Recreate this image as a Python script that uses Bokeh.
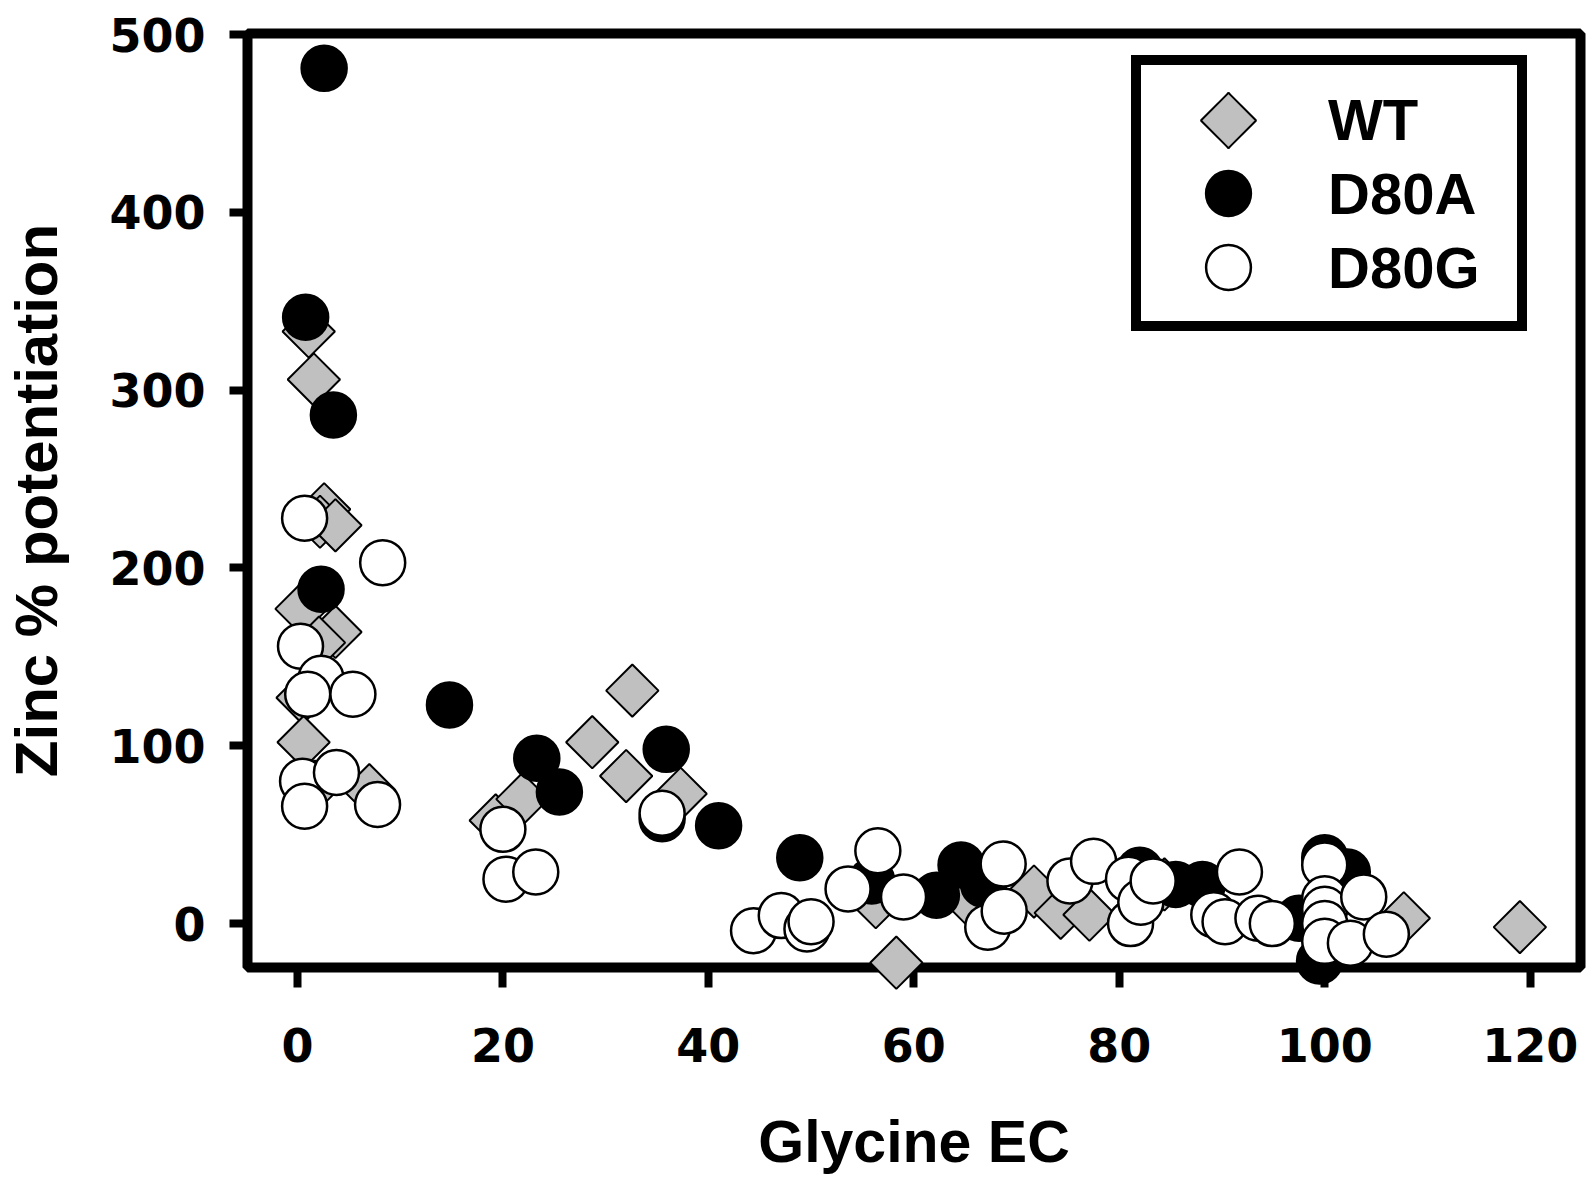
import math
from bokeh.plotting import figure
from bokeh.models import Range1d, Legend, LegendItem, FixedTicker, ColumnDataSource
from bokeh.embed import file_html
from bokeh.resources import INLINE

# ---- data ----
x_ticks = [0, 20, 40, 60, 80, 100, 120]
y_ticks = [0, 100, 200, 300, 400, 500]

wt_x = [1.1, 1.6, 2.6, 2.2, 3.7, 0.4, 3.7, 2.1, 0.5, 0.6, 1.7, 7.0, 19.3, 21.9,
        28.7, 32.6, 32.0, 37.3, 56.3, 58.3, 65.3, 71.7, 74.3, 77.1, 84.4, 107.7, 119.0]
wt_y = [333, 306, 233, 226, 224, 177, 164, 158, 127, 102, 77, 75, 58, 70,
        102, 131, 83, 73, 12, -22, 13, 18, 6, 5, 22, 3, -2]

d80a_x = [2.6, 0.8, 3.5, 2.3, 14.8, 23.3, 25.5, 35.9, 35.5, 41.0, 48.9, 55.9,
          62.2, 64.6, 66.8, 82.0, 85.5, 88.1, 97.5, 100.0, 102.2, 99.5]
d80a_y = [481, 341, 286, 188, 123, 93, 74, 98, 59, 55, 37, 24,
          16, 33, 22, 30, 22, 22, 3, 37, 29, -21]

d80g_x = [0.7, 8.3, 0.3, 2.3, 1.0, 5.4, 0.5, 3.8, 0.7, 7.8, 20.0, 20.3, 23.2,
          35.5, 44.4, 47.1, 49.6, 50.0, 53.6, 56.5, 59.0, 67.2, 68.8, 68.7,
          75.2, 77.5, 80.9, 81.1, 82.1, 83.3, 89.2, 90.3, 91.7, 93.5, 94.9,
          100.0, 100.0, 100.0, 100.0, 100.0, 103.8, 102.5, 106.0]
d80g_y = [228, 203, 156, 138, 129, 129, 80, 85, 66, 67, 53, 25, 29,
          62, -4, 4.5, -3, 1, 19.5, 41, 15, -2, 7, 33.5,
          24, 35, 25, 0, 12, 24, 5, 1, 29, 3, 0,
          33, 14, 8, 0, -10, 15, -11, -6]

series_names = ["WT", "D80A", "D80G"]

WT_FILL = "#C0C0C0"

# ---- figure ----
p = figure(width=1594, height=1182, output_backend="svg", toolbar_location=None,
           x_range=Range1d(-4.86, 124.9), y_range=Range1d(-24.7, 500.6),
           min_border_left=245, min_border_right=14, min_border_top=33,
           min_border_bottom=215)
p.background_fill_color = "white"
p.border_fill_color = "white"
p.outline_line_color = "black"
p.outline_line_width = 10
p.outline_line_alpha = 1.0
p.xgrid.visible = False
p.ygrid.visible = False

for ax in (p.xaxis, p.yaxis):
    ax.axis_line_color = None
    ax.minor_tick_line_color = None
    ax.major_tick_line_color = "black"
    ax.major_tick_line_width = 8
    ax.major_tick_in = 0
    ax.major_label_text_font = "DejaVu Sans"
    ax.major_label_text_font_style = "bold"
    ax.major_label_text_font_size = "46px"
    ax.major_label_text_color = "black"
    ax.axis_label_text_font = "Liberation Sans"
    ax.axis_label_text_font_style = "bold"
    ax.axis_label_text_color = "black"

p.xaxis.ticker = FixedTicker(ticks=x_ticks)
p.yaxis.ticker = FixedTicker(ticks=y_ticks)
p.xaxis.major_tick_out = 20
p.yaxis.major_tick_out = 18
p.xaxis.major_label_standoff = 40
p.yaxis.major_label_standoff = 24
p.xaxis.axis_label = "Glycine EC"
p.yaxis.axis_label = "Zinc % potentiation"
p.xaxis.axis_label_text_font_size = "59px"
p.yaxis.axis_label_text_font_size = "60px"
p.xaxis.axis_label_standoff = 44
p.yaxis.axis_label_standoff = 36

# ---- data marks ----
r_wt = p.scatter(wt_x, wt_y, marker="square", angle=math.pi / 4, size=37,
                 fill_color=WT_FILL, line_color="black", line_width=2,
                 level="overlay")
r_a = p.scatter(d80a_x, d80a_y, marker="circle", size=45,
                fill_color="black", line_color="black", line_width=2.5,
                level="overlay")
r_g = p.scatter(d80g_x, d80g_y, marker="circle", size=45,
                fill_color="white", line_color="black", line_width=2.5,
                level="overlay")

# legend-only glyphs for WT (legend markers are drawn unrotated), hidden in plot
r_wt_leg = p.scatter(wt_x, wt_y, marker="diamond", size=37, fill_color=WT_FILL,
                     line_color="black", line_width=2, visible=False)
wt_leg_renderers = [r_wt_leg]
try:
    from bokeh.models import Ngon
    props = Ngon.properties()
    kw = dict(x="x", y="y", fill_color=WT_FILL, line_color="black", line_width=2)
    if "n" in props:
        kw["n"] = 4
    if "radius" in props:
        kw["radius"] = 1.0
    ngon_r = p.add_glyph(ColumnDataSource(dict(x=wt_x, y=wt_y)), Ngon(**kw))
    ngon_r.visible = False
    wt_leg_renderers.append(ngon_r)
except Exception:
    pass

# invisible placeholders for the boxed legend (labels only)
blank = p.scatter(x=[], y=[], marker="circle", fill_alpha=0, line_alpha=0)

# ---- legend: box + labels ----
legA = Legend(items=[LegendItem(label=series_names[0], renderers=[blank]),
                     LegendItem(label=series_names[1], renderers=[blank]),
                     LegendItem(label=series_names[2], renderers=[blank])],
              location=(884, 636), margin=0, padding=18, spacing=2,
              glyph_width=130, glyph_height=72, label_width=171, label_height=72,
              label_standoff=39, border_line_color="black", border_line_width=10,
              border_line_alpha=1.0, background_fill_color="white",
              background_fill_alpha=1.0, label_text_font="Liberation Sans",
              label_text_font_style="bold", label_text_font_size="58px",
              label_text_color="black", inactive_fill_alpha=0.0)
p.add_layout(legA, "center")


def glyph_legend(renderers, box, loc):
    return Legend(items=[LegendItem(label=" ", renderers=renderers)],
                  location=loc, margin=0, padding=0, spacing=0,
                  glyph_width=box, glyph_height=box, label_width=0,
                  label_height=0, label_standoff=0, label_text_font_size="1px",
                  border_line_color=None, background_fill_alpha=0.0,
                  inactive_fill_alpha=0.0)


p.add_layout(glyph_legend(wt_leg_renderers, 138, (912, 778)), "center")
p.add_layout(glyph_legend([r_a], 112, (925, 718)), "center")
p.add_layout(glyph_legend([r_g], 112, (925, 644)), "center")

open("out.html", "w").write(file_html(p, INLINE))
